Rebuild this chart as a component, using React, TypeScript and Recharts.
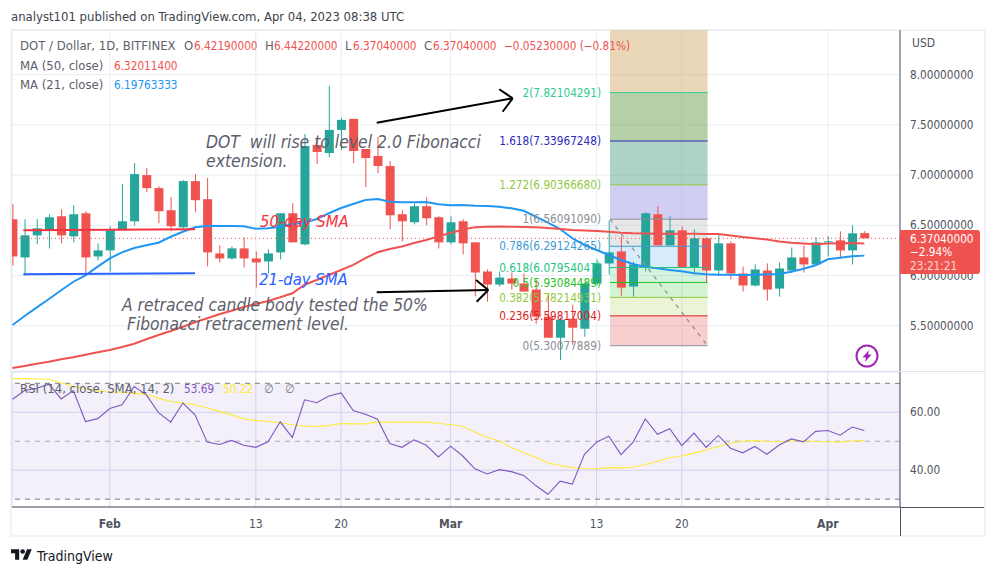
import { ComposedChart, Bar, Line, XAxis, YAxis, CartesianGrid, ReferenceLine, ReferenceArea, ReferenceDot } from 'recharts';

const FONT = '"DejaVu Sans Condensed", "DejaVu Sans", sans-serif';
const UP = '#26a69a';
const DOWN = '#ef5350';
const GRID = '#e6edf4';
const TEXT = '#5d606b';

const opens = [6.56, 6.18, 6.40, 6.45, 6.59, 6.39, 6.62, 6.19, 6.25, 6.45, 6.54, 7.00, 6.87, 6.65, 6.48, 6.94, 6.76, 6.22, 6.17, 6.27, 6.17, 6.14, 6.23, 6.62, 6.31, 7.30, 7.22, 7.45, 7.56, 7.26, 7.19, 7.09, 6.61, 6.53, 6.69, 6.58, 6.33, 6.54, 6.33, 6.04, 5.91, 5.97, 5.92, 5.86, 5.59, 5.38, 5.57, 5.47, 5.92, 6.12, 6.24, 5.89, 6.08, 6.61, 6.30, 6.45, 6.08, 6.37, 6.05, 6.32, 6.02, 5.90, 6.05, 5.87, 6.05, 6.18, 6.11, 6.33, 6.35, 6.25, 6.4219];
const highs = [6.71, 6.56, 6.56, 6.61, 6.66, 6.70, 6.64, 6.32, 6.49, 6.91, 7.12, 7.07, 6.89, 6.78, 6.95, 7.01, 6.97, 6.30, 6.29, 6.38, 6.24, 6.26, 6.62, 6.72, 7.41, 7.37, 7.89, 7.57, 7.56, 7.26, 7.38, 7.14, 6.65, 6.72, 6.78, 6.59, 6.59, 6.56, 6.33, 6.06, 6.04, 6.03, 6.02, 5.96, 5.81, 5.58, 5.71, 5.93, 6.16, 6.55, 6.39, 6.14, 6.63, 6.69, 6.59, 6.49, 6.46, 6.38, 6.41, 6.34, 6.09, 6.11, 6.12, 6.13, 6.28, 6.30, 6.38, 6.39, 6.44, 6.50, 6.4422];
const lows = [6.10, 6.00, 6.31, 6.27, 6.32, 6.33, 6.02, 6.15, 6.04, 6.45, 6.50, 6.83, 6.52, 6.44, 6.47, 6.63, 6.09, 6.13, 6.16, 6.08, 5.88, 6.02, 6.16, 6.33, 6.30, 7.11, 7.18, 7.25, 7.12, 6.88, 7.02, 6.46, 6.34, 6.51, 6.50, 6.27, 6.31, 6.21, 5.79, 5.74, 5.89, 5.86, 5.84, 5.52, 5.38, 5.16, 5.31, 5.39, 5.90, 6.01, 5.80, 5.79, 6.04, 6.30, 6.30, 6.08, 6.01, 5.93, 6.00, 5.96, 5.84, 5.89, 5.75, 5.79, 6.04, 6.03, 6.10, 6.19, 6.17, 6.11, 6.3704];
const closes = [6.19, 6.40, 6.47, 6.58, 6.40, 6.61, 6.18, 6.25, 6.45, 6.54, 7.01, 6.87, 6.64, 6.49, 6.94, 6.75, 6.23, 6.17, 6.27, 6.17, 6.13, 6.22, 6.62, 6.33, 7.29, 7.23, 7.45, 7.55, 7.24, 7.17, 7.09, 6.60, 6.54, 6.69, 6.57, 6.33, 6.53, 6.32, 6.03, 5.91, 5.98, 5.92, 5.84, 5.59, 5.38, 5.56, 5.48, 5.92, 6.12, 6.23, 5.88, 6.11, 6.62, 6.30, 6.45, 6.08, 6.37, 6.05, 6.32, 6.02, 5.90, 6.06, 5.86, 6.07, 6.18, 6.11, 6.33, 6.34, 6.25, 6.42, 6.3704];
const ma21 = [5.507, 5.597, 5.683, 5.766, 5.853, 5.938, 6.002, 6.088, 6.171, 6.231, 6.274, 6.301, 6.327, 6.386, 6.436, 6.480, 6.493, 6.493, 6.493, 6.490, 6.466, 6.470, 6.486, 6.513, 6.526, 6.563, 6.620, 6.672, 6.712, 6.752, 6.762, 6.735, 6.729, 6.729, 6.732, 6.709, 6.699, 6.702, 6.695, 6.692, 6.685, 6.669, 6.645, 6.586, 6.526, 6.463, 6.371, 6.304, 6.254, 6.204, 6.154, 6.115, 6.085, 6.072, 6.055, 6.042, 6.022, 6.012, 6.008, 6.008, 6.005, 6.008, 6.012, 6.015, 6.038, 6.068, 6.102, 6.161, 6.177, 6.191, 6.198];
const ma50 = [5.079, 5.099, 5.121, 5.141, 5.165, 5.185, 5.211, 5.235, 5.258, 5.288, 5.321, 5.365, 5.407, 5.447, 5.490, 5.534, 5.574, 5.614, 5.649, 5.686, 5.716, 5.746, 5.783, 5.823, 5.908, 5.955, 6.005, 6.055, 6.105, 6.174, 6.231, 6.264, 6.289, 6.324, 6.354, 6.390, 6.423, 6.458, 6.480, 6.486, 6.488, 6.486, 6.483, 6.480, 6.473, 6.463, 6.453, 6.448, 6.443, 6.436, 6.426, 6.420, 6.418, 6.417, 6.416, 6.416, 6.415, 6.414, 6.413, 6.398, 6.383, 6.371, 6.359, 6.339, 6.327, 6.319, 6.311, 6.319, 6.322, 6.323, 6.320];
const rsi = [64.5, 67.5, 68.3, 69.7, 64.6, 67.5, 56.8, 57.8, 61.3, 62.6, 68.9, 66.0, 59.9, 56.6, 63.2, 59.1, 49.7, 48.9, 50.3, 48.6, 47.9, 49.8, 56.7, 51.3, 64.3, 63.3, 65.6, 66.7, 60.6, 59.3, 57.6, 49.2, 47.9, 50.5, 48.6, 44.6, 48.3, 44.9, 40.5, 38.7, 40.2, 39.5, 38.2, 34.7, 31.7, 36.2, 35.2, 45.5, 49.7, 51.7, 45.4, 49.7, 57.7, 52.4, 54.3, 48.5, 52.8, 47.9, 52.0, 47.6, 46.0, 48.2, 45.5, 48.7, 50.8, 49.8, 53.4, 53.7, 52.1, 54.9, 53.69];
const rsiMa = [71.6, 71.6, 71.5, 71.4, 70.2, 68.9, 68.2, 67.4, 67.0, 66.9, 66.6, 66.1, 64.8, 63.7, 63.3, 62.6, 61.5, 60.3, 59.1, 57.7, 57.2, 56.8, 56.4, 55.7, 55.2, 55.1, 55.4, 56.1, 56.0, 56.0, 56.6, 56.6, 56.6, 56.6, 56.6, 56.2, 55.7, 55.2, 53.1, 51.3, 50.2, 47.8, 46.1, 44.4, 42.5, 41.6, 40.9, 40.6, 40.5, 40.9, 40.8, 41.0, 42.0, 43.1, 44.3, 44.9, 45.9, 47.0, 48.2, 49.3, 50.0, 50.2, 49.9, 49.8, 50.1, 50.1, 49.9, 49.8, 49.7, 50.1, 50.22];

const candles = opens.map((open, day) => ({
  day,
  open,
  high: highs[day],
  low: lows[day],
  close: closes[day],
  ma21: ma21[day],
  ma50: ma50[day],
  rsi: rsi[day],
  rsiMa: rsiMa[day],
}));

const dayTicks = [8, 20, 27, 36, 48, 55, 67];
const dayLabels = ['Feb', '13', '20', 'Mar', '13', '20', 'Apr'];
const monthLabels = ['Feb', 'Mar', 'Apr'];
const priceTicks = [5.5, 6, 6.5, 7, 7.5, 8];
const rsiTicks = [40, 60];

const fibStart = 49.1;
const fibEnd = 57.12;
const fibTop = 8.445;
const fibRatios = ['2', '1.618', '1.272', '1', '0.786', '0.618', '0.5', '0.382', '0.236', '0'];
const fibPrices = [7.82104291, 7.33967248, 6.9036668, 6.5609109, 6.29124265, 6.07954047, 5.93084489, 5.78214931, 5.59817004, 5.30077889];
const fibColors = ['#2ecc8e', '#2a2ab8', '#92c83e', '#8a8d96', '#3d9ad1', '#22c57f', '#22c022', '#92c83e', '#dd2222', '#8a8d96'];
const fibFills = ['#d1a660', '#7ba763', '#5aa88a', '#8a88e0', '#b0b0b0', '#2196f3', '#22c55e', '#22c522', '#9acd32', '#e02020'];
const fibOpacity = [0.45, 0.55, 0.5, 0.4, 0.3, 0.18, 0.2, 0.2, 0.2, 0.22];

const arrowShafts = [
  [{ x: 29.93, y: 7.522 }, { x: 41.1, y: 7.765 }],
  [{ x: 29.93, y: 5.833 }, { x: 39.1, y: 5.856 }],
];
const arrowHeads = [
  [{ x: 40.0, y: 7.855 }, { x: 41.1, y: 7.765 }],
  [{ x: 40.28, y: 7.631 }, { x: 41.1, y: 7.765 }],
  [{ x: 38.09, y: 5.955 }, { x: 39.1, y: 5.856 }],
  [{ x: 38.14, y: 5.739 }, { x: 39.1, y: 5.856 }],
];

function Candle(props: any) {
  const { x, y, width, height, payload } = props;
  const unit = height / (payload.high - payload.low || 1);
  const cx = x + width / 2;
  const top = y + (payload.high - Math.max(payload.open, payload.close)) * unit;
  const bodyH = Math.max(Math.abs(payload.open - payload.close) * unit, 1);
  const color = payload.close >= payload.open ? UP : DOWN;
  return (
    <g>
      <rect x={cx - 0.5} y={y} width={1} height={height} fill={color} />
      <rect x={cx - 4.5} y={top} width={9} height={bodyH} fill={color} />
    </g>
  );
}

function DayTick(props: any) {
  const { x, y, payload } = props;
  const label = dayLabels[dayTicks.indexOf(payload.value)];
  return (
    <text x={x} y={y + 13} textAnchor="middle" fontFamily={FONT} fontSize={12} fill="#50535e" fontWeight={monthLabels.includes(label) ? 700 : 400}>
      {label}
    </text>
  );
}

function Note({ left, top, color, size = 16.5, children }: any) {
  return (
    <div style={{ position: 'absolute', left, top, color, fontFamily: FONT, fontSize: size, fontStyle: 'italic', whiteSpace: 'pre', lineHeight: '18.5px' }}>
      {children}
    </div>
  );
}

function Small({ left, top, color = TEXT, size = 13, children }: any) {
  return (
    <span style={{ position: 'absolute', left, top, color, fontFamily: FONT, fontSize: size, whiteSpace: 'pre', lineHeight: '16px' }}>
      {children}
    </span>
  );
}

export default function App() {
  return (
    <div style={{ position: 'absolute', left: 0, top: 0, width: 996, height: 575, background: '#fff', overflow: 'hidden' }}>
      <div style={{ position: 'absolute', left: 10, top: 29, width: 972, height: 504, border: '2px solid #f0f3fa' }} />

      <div style={{ position: 'absolute', left: 0, top: 0 }}>
        <ComposedChart width={996} height={372} data={candles} margin={{ top: 30, left: 12, right: 0, bottom: 1 }}>
          <CartesianGrid stroke={GRID} />
          <XAxis dataKey="day" type="number" domain={[-0.04, 72.93]} ticks={dayTicks} hide allowDataOverflow />
          <YAxis
            orientation="right"
            width={96}
            domain={[5.049, 8.445]}
            ticks={priceTicks}
            tickFormatter={(v: number) => v.toFixed(8)}
            tick={{ fontFamily: FONT, fontSize: 11.7, fill: '#50535e' }}
            tickLine={false}
            tickMargin={4}
            axisLine={{ stroke: '#50535e' }}
            allowDataOverflow
          />
          <ReferenceLine y={6.3704} stroke={DOWN} strokeDasharray="1 3" />
          <Line dataKey="ma21" stroke="#2196f3" strokeWidth={2} dot={false} isAnimationActive={false} />
          <Line dataKey="ma50" stroke={DOWN} strokeWidth={2} dot={false} isAnimationActive={false} />
          <Bar dataKey={(d: any) => [d.low, d.high]} barSize={9} shape={Candle} isAnimationActive={false} />

          {fibPrices.map((price, i) => (
            <ReferenceArea
              key={fibRatios[i]}
              x1={fibStart}
              x2={fibEnd}
              y1={i === 0 ? fibTop : fibPrices[i - 1]}
              y2={price}
              fill={fibFills[i]}
              fillOpacity={fibOpacity[i]}
              stroke="none"
            />
          ))}
          {fibPrices.map((price, i) => (
            <ReferenceLine
              key={fibRatios[i]}
              segment={[{ x: fibStart, y: price }, { x: fibEnd, y: price }]}
              stroke={fibColors[i]}
            />
          ))}
          <ReferenceLine
            segment={[{ x: fibStart, y: fibPrices[3] }, { x: fibEnd, y: fibPrices[9] }]}
            stroke="#8f929a"
            strokeWidth={1.3}
            strokeDasharray="4 5"
          />
          {fibPrices.map((price, i) => (
            <ReferenceDot
              key={fibRatios[i]}
              x={fibStart}
              y={price}
              r={0}
              stroke="none"
              label={{
                value: `${fibRatios[i]}(${price.toFixed(8)})`,
                position: 'left',
                offset: 9,
                fill: fibColors[i],
                fontFamily: FONT,
                fontSize: 11.7,
              }}
            />
          ))}

          <ReferenceLine segment={[{ x: 0.89, y: 6.45 }, { x: 15, y: 6.46 }]} stroke="#f7323f" strokeWidth={2} />
          <ReferenceLine segment={[{ x: 0.89, y: 6.012 }, { x: 15, y: 6.022 }]} stroke="#2962ff" strokeWidth={2} />
          {arrowShafts.concat(arrowHeads).map((seg, i) => (
            <ReferenceLine key={i} segment={seg} stroke="#000" strokeWidth={2} />
          ))}
        </ComposedChart>
      </div>

      <div style={{ position: 'absolute', left: 0, top: 372 }}>
        <ComposedChart width={996} height={164} data={candles} margin={{ top: 0, left: 12, right: 0, bottom: 0 }}>
          <CartesianGrid stroke="#d8def2" />
          <ReferenceArea y1={30} y2={70} fill="#7e57c2" fillOpacity={0.09} stroke="none" />
          <XAxis
            dataKey="day"
            type="number"
            domain={[-0.04, 72.93]}
            ticks={dayTicks}
            tick={DayTick}
            height={29}
            tickLine={false}
            axisLine={{ stroke: '#50535e' }}
            allowDataOverflow
          />
          <YAxis
            orientation="right"
            width={96}
            domain={[27.3, 73.9]}
            ticks={rsiTicks}
            tickFormatter={(v: number) => v.toFixed(2)}
            tick={{ fontFamily: FONT, fontSize: 11.7, fill: '#50535e' }}
            tickLine={false}
            tickMargin={4}
            axisLine={{ stroke: '#50535e' }}
            allowDataOverflow
          />
          <ReferenceLine y={70} stroke="#787b86" strokeDasharray="5 5" />
          <ReferenceLine y={50} stroke="#a9acb4" strokeDasharray="5 5" />
          <ReferenceLine y={30} stroke="#787b86" strokeDasharray="5 5" />
          <Line dataKey="rsiMa" stroke="#ffeb3b" strokeWidth={1.1} dot={false} isAnimationActive={false} />
          <Line dataKey="rsi" stroke="#7e57c2" strokeWidth={1.1} dot={false} isAnimationActive={false} />
        </ComposedChart>
      </div>

      <div style={{ position: 'absolute', left: 12, top: 371, width: 972, height: 1, background: '#e0e3eb' }} />
      <div style={{ position: 'absolute', left: 900, top: 507, width: 84, height: 1, background: '#50535e' }} />
      <div style={{ position: 'absolute', left: 900, top: 507, width: 1, height: 29, background: '#50535e' }} />

      <Small left={11} top={9} color="#40434d">analyst101 published on TradingView.com, Apr 04, 2023 08:38 UTC</Small>

      <Small left={20} top={38}>DOT / Dollar, 1D, BITFINEX</Small>
      <Small left={184} top={38}>O</Small>
      <Small left={194} top={38} color={DOWN} size={11.7}>6.42190000</Small>
      <Small left={265} top={38}>H</Small>
      <Small left={274} top={38} color={DOWN} size={11.7}>6.44220000</Small>
      <Small left={345} top={38}>L</Small>
      <Small left={353} top={38} color={DOWN} size={11.7}>6.37040000</Small>
      <Small left={424} top={38}>C</Small>
      <Small left={433} top={38} color={DOWN} size={11.7}>6.37040000</Small>
      <Small left={504} top={38} color={DOWN} size={11.7}>−0.05230000 (−0.81%)</Small>
      <Small left={20} top={58}>MA (50, close)</Small>
      <Small left={114} top={58} color={DOWN} size={11.7}>6.32011400</Small>
      <Small left={20} top={77}>MA (21, close)</Small>
      <Small left={114} top={77} color="#2196f3" size={11.7}>6.19763333</Small>
      <Small left={912} top={35} color="#50535e" size={12}>USD</Small>

      <Note left={206} top={133} color={TEXT} size={17.4}>{'DOT  will rise to level 2.0 Fibonacci\nextension.'}</Note>
      <Note left={260} top={213} color="#f7323f">50-day SMA</Note>
      <Note left={259} top={271} color="#2962ff">21-day SMA</Note>
      <Note left={122} top={296} color={TEXT} size={17.3}>{'A retraced candle body tested the 50%\n Fibonacci retracement level.'}</Note>

      <div style={{ position: 'absolute', left: 900, top: 230, width: 80, height: 44, background: DOWN, borderRadius: '0 3px 3px 0' }} />
      <Small left={910} top={231} color="#fff" size={11.7}>6.37040000</Small>
      <Small left={910} top={244} color="#fff" size={11.7}>−2.94%</Small>
      <Small left={910} top={258} color="#fbd5d4" size={11.7}>23:21:21</Small>

      <Small left={20} top={381}>RSI (14, close, SMA, 14, 2)</Small>
      <Small left={184} top={381} color="#7e57c2" size={11.7}>53.69</Small>
      <Small left={223} top={381} color="#ffeb3b" size={11.7}>50.22</Small>
      <Small left={264} top={381} color="#787b86" size={12}>∅</Small>
      <Small left={285} top={381} color="#787b86" size={12}>∅</Small>

      <svg style={{ position: 'absolute', left: 855, top: 344 }} width={24} height={24} viewBox="0 0 24 24">
        <circle cx={12} cy={12} r={10.5} fill="#fff" stroke="#9c27b0" strokeWidth={2} />
        <path d="M14 6 L7.5 13.5 H11 L10 18 L16.5 10.5 H13 Z" fill="#9c27b0" />
      </svg>

      <svg style={{ position: 'absolute', left: 11, top: 548 }} width={21} height={14} viewBox="0 2 36 24">
        <path d="M14 22H7V11H0V4h14v18zM28 22h-8l7.5-18h8L28 22z" fill="#131722" />
        <circle cx={20} cy={8} r={4} fill="#131722" />
      </svg>
      <Small left={37} top={548} color="#131722" size={14}>TradingView</Small>
    </div>
  );
}
